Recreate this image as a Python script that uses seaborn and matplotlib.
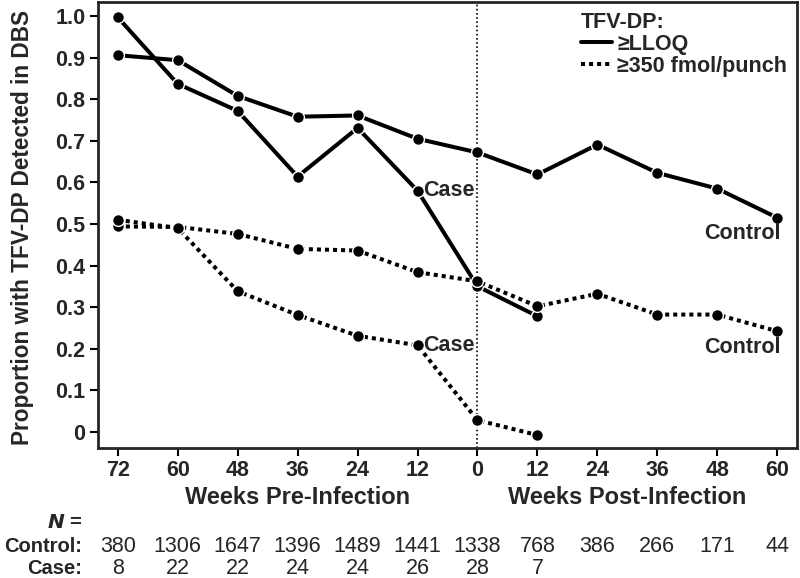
import numpy as np
import pandas as pd
import matplotlib
matplotlib.use("Agg")
import matplotlib.pyplot as plt
import seaborn as sns
from matplotlib.lines import Line2D

sns.set_style("ticks")
plt.rcParams['font.family'] = ['Liberation Sans', 'DejaVu Sans']
plt.rcParams['font.weight'] = 'bold'

week_labels = ["72", "60", "48", "36", "24", "12", "0", "12", "24", "36", "48", "60"]
case_lloq = [0.997, 0.837, 0.772, 0.614, 0.731, 0.580, 0.350, 0.278]
control_lloq = [0.906, 0.894, 0.808, 0.758, 0.761, 0.705, 0.672, 0.619, 0.691, 0.623, 0.585, 0.515]
case_350 = [0.510, 0.490, 0.338, 0.281, 0.231, 0.208, 0.028, -0.008]
control_350 = [0.494, 0.493, 0.476, 0.440, 0.436, 0.384, 0.362, 0.302, 0.332, 0.282, 0.282, 0.242]
n_control = ["380", "1306", "1647", "1396", "1489", "1441", "1338", "768", "386", "266", "171", "44"]
n_case = ["8", "22", "22", "24", "24", "26", "28", "7"]

rows = []
for name, vals, ls in [("case_lloq", case_lloq, "solid"), ("control_lloq", control_lloq, "solid"),
                       ("case_350", case_350, "dot"), ("control_350", control_350, "dot")]:
    for i, v in enumerate(vals):
        rows.append({"series": name, "idx": i, "prop": v, "ls": ls})
df = pd.DataFrame(rows)

W, H = 800, 578
fig = plt.figure(figsize=(8, 5.78), dpi=100)
ax = fig.add_axes([98/W, 1 - 448/H, (797-98)/W, (448-2)/H])

FS = 15.5
dot = (0, (1.0, 1.0))
for name in ["control_lloq", "case_lloq", "control_350", "case_350"]:
    sub = df[df.series == name]
    ls = "-" if sub.ls.iloc[0] == "solid" else dot
    sns.lineplot(data=sub, x="idx", y="prop", ax=ax, color="black", lw=2.9,
                 linestyle=ls, marker="o", markersize=8.5, markeredgecolor="white",
                 markeredgewidth=1.0, dash_capstyle="butt", legend=False)

ax.axvline(6, color="black", lw=1.2, linestyle=(0, (1, 1.5)), zorder=0)

ax.set_xlim(-0.33, 11.33)
ax.set_ylim(-0.039, 1.034)
ax.set_xticks(range(12))
ax.set_xticklabels(week_labels)
yt = np.round(np.arange(0, 1.01, 0.1), 1)
ax.set_yticks(yt)
ax.set_yticklabels(["0"] + [f"{v:.1f}" for v in yt[1:]])
ax.tick_params(axis="both", labelsize=FS, width=1.5, length=6, color="black", pad=3)
for s in ax.spines.values():
    s.set_linewidth(2)
    s.set_visible(True)
ax.set_xlabel("")
ax.set_ylabel("Proportion with TFV-DP Detected in DBS", fontsize=16.3, fontweight="bold")
ax.yaxis.set_label_coords(-0.091, 0.495)

# series labels
ax.text(5.1, case_lloq[5], "Case", fontsize=FS, fontweight="bold", va="center", ha="left")
ax.text(5.1, case_350[5], "Case", fontsize=FS, fontweight="bold", va="center", ha="left")
ax.text(11.05, control_lloq[11] - 0.039, "Control", fontsize=FS, fontweight="bold", va="center", ha="right")
ax.text(11.05, control_350[11] - 0.039, "Control", fontsize=FS, fontweight="bold", va="center", ha="right")

handles = [Line2D([0], [0], color="black", lw=2.9),
           Line2D([0], [0], color="black", lw=2.9, linestyle=dot, dash_capstyle="butt")]
leg = ax.legend(handles, ["\u2265LLOQ", "\u2265350 fmol/punch"], title="TFV-DP:", loc="upper right",
                frameon=False, fontsize=FS, title_fontsize=FS, handlelength=1.45,
                handletextpad=0.25, labelspacing=0.05, borderaxespad=0.15, borderpad=0.3)
leg._legend_box.align = "left"
leg.get_title().set_fontweight("bold")

# bottom annotations
trans = ax.get_xaxis_transform()
ax.text(3, -(497 - 448) / 446, "Weeks Pre-Infection", transform=trans, fontsize=17,
        fontweight="bold", ha="center", va="center")
ax.text(8.5, -(497 - 448) / 446, "Weeks Post-Infection", transform=trans, fontsize=17,
        fontweight="bold", ha="center", va="center")
fig.text(82/W, 1 - 522/H, "$\\boldsymbol{N}$ =", fontsize=14.5, fontweight="bold", ha="right", va="center")
fig.text(82/W, 1 - 547/H, "Control:", fontsize=14.5, fontweight="bold", ha="right", va="center")
fig.text(82/W, 1 - 569/H, "Case:", fontsize=14.5, fontweight="bold", ha="right", va="center")
for i, t in enumerate(n_control):
    ax.text(i, -(547 - 448) / 446, t, transform=trans, fontsize=FS, fontweight="normal", ha="center", va="center")
for i, t in enumerate(n_case):
    ax.text(i, -(569 - 448) / 446, t, transform=trans, fontsize=FS, fontweight="normal", ha="center", va="center")

fig.savefig("out.png", dpi=100)
